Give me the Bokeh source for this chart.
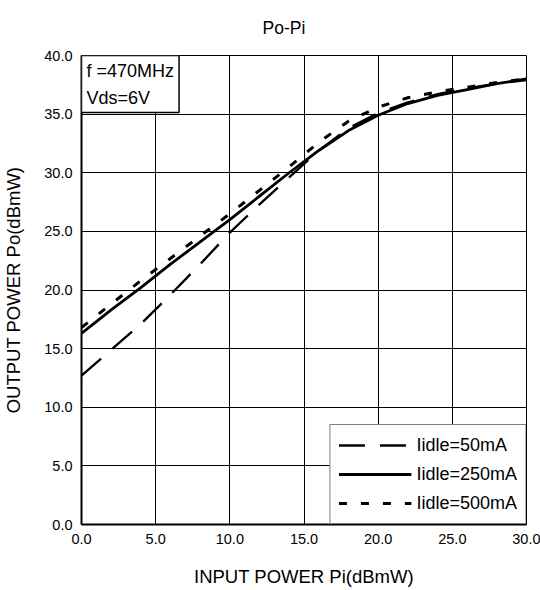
from bokeh.plotting import figure
from bokeh.models import Range1d, Legend, LegendItem, Label, PrintfTickFormatter, FixedTicker
from bokeh.embed import file_html
from bokeh.resources import INLINE

# Input power Pi (dBmW)
pi_in = [0, 2, 4, 6, 8, 10, 12, 14, 16, 18, 20, 22, 24, 26, 28, 30]
# Output power Po (dBmW) for each idle current
po_50mA = [12.7, 14.9, 17.1, 19.6, 22.2, 24.9, 27.3, 29.6, 31.9, 33.8, 35.1, 36.0, 36.7, 37.2, 37.6, 37.9]
po_250mA = [16.3, 18.3, 20.2, 22.2, 24.1, 26.0, 28.0, 30.0, 31.9, 33.6, 34.9, 35.9, 36.6, 37.1, 37.6, 38.0]
po_500mA = [16.8, 18.8, 20.8, 22.7, 24.6, 26.5, 28.5, 30.5, 32.6, 34.4, 35.6, 36.4, 36.9, 37.3, 37.7, 38.0]
series_labels = ["Iidle=50mA", "Iidle=250mA", "Iidle=500mA"]
x_ticks = [0, 5, 10, 15, 20, 25, 30]
y_ticks = [0, 5, 10, 15, 20, 25, 30, 35, 40]
chart_title = "Po-Pi"

FONT = "Liberation Sans"

p = figure(width=540, height=590, output_backend="svg", toolbar_location=None,
           x_range=Range1d(0, 30), y_range=Range1d(0, 40),
           min_border_left=80, min_border_right=14, min_border_top=55, min_border_bottom=66,
           title=chart_title)

p.title.align = "left"
p.title.offset = 181
p.title.vertical_align = "top"
p.title.standoff = 31
p.title.text_font = FONT
p.title.text_font_size = "17.5px"
p.title.text_font_style = "normal"
p.title.text_color = "#000000"

p.outline_line_color = "black"
p.outline_line_width = 1
p.background_fill_color = "white"
p.border_fill_color = "white"

for ax, ticks in ((p.xaxis, x_ticks), (p.yaxis, y_ticks)):
    ax.ticker = FixedTicker(ticks=ticks)
    ax.formatter = PrintfTickFormatter(format="%.1f")
    ax.axis_line_color = "black"
    ax.axis_line_width = 2
    ax.major_tick_in = 0
    ax.major_tick_out = 0
    ax.minor_tick_line_color = None
    ax.major_label_text_font = FONT
    ax.major_label_text_font_size = "14.5px"
    ax.major_label_text_color = "#000000"
    ax.axis_label_text_font = FONT
    ax.axis_label_text_font_size = "18.5px"
    ax.axis_label_text_font_style = "normal"
    ax.axis_label_text_color = "#000000"
    ax.major_label_standoff = 9

p.xaxis.axis_label = "INPUT POWER Pi(dBmW)"
p.yaxis.axis_label = "OUTPUT POWER Po(dBmW)"
p.xaxis.axis_label_standoff = 19
p.yaxis.axis_label_standoff = 17

p.grid.grid_line_color = "black"
p.grid.grid_line_width = 1
p.grid.grid_line_alpha = 1.0

r50 = p.line(pi_in, po_50mA, line_color="black", line_width=2.3, line_dash="26 15")
r250 = p.line(pi_in, po_250mA, line_color="black", line_width=2.8)
r500 = p.line(pi_in, po_500mA, line_color="black", line_width=3, line_dash="8 14")

legend = Legend(items=[LegendItem(label=series_labels[0], renderers=[r50]),
                       LegendItem(label=series_labels[1], renderers=[r250]),
                       LegendItem(label=series_labels[2], renderers=[r500])],
                location="bottom_right", margin=0, padding=8, spacing=5,
                glyph_width=73, glyph_height=24, label_height=24, label_standoff=5,
                label_text_font=FONT, label_text_font_size="18px", label_text_color="#000000",
                border_line_color="black", border_line_width=1, background_fill_color="white",
                background_fill_alpha=1.0)
p.add_layout(legend, "center")

info = Label(x=0, y=40, text="f =470MHz\nVds=6V", text_font=FONT, text_font_size="18px",
             text_color="#000000", text_align="left", text_baseline="top",
             text_line_height=1.35, padding=5,
             border_line_color="black", border_line_width=1.5,
             background_fill_color="white", background_fill_alpha=1.0)
p.add_layout(info)

open("out.html", "w").write(file_html(p, INLINE))
